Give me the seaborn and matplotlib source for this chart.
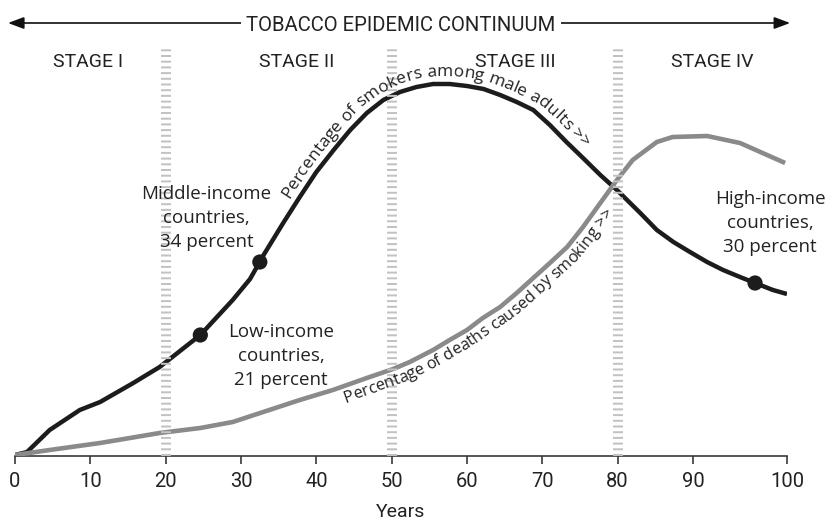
import numpy as np
import pandas as pd
import matplotlib.pyplot as plt
import seaborn as sns
from matplotlib.font_manager import FontProperties

# values (level is unitless, 0 = baseline)
smokers_years = [0, 1.6, 4.6, 8.6, 11.3, 15.7, 19.2, 24.6, 28.9, 31.2,
                 33.0, 35.6, 37.8, 40.0, 42.3, 44.5, 46.7, 48.9, 51.1, 53.3,
                 55.5, 57.7, 60.0, 62.2, 64.4, 66.6, 68.8, 71.0, 73.2, 75.4,
                 77.7, 79.9, 83.0, 85.2, 87.4, 89.6, 91.5, 93.2, 95.0, 96.6,
                 98.5, 100]
smokers_level = [1, 4, 26, 46, 54, 73, 89, 121, 156, 177,
                 201, 233, 259, 284, 306, 326, 343, 356, 364, 369,
                 372, 372, 370, 367, 361, 354, 346, 331, 314, 298,
                 281, 266, 243, 226, 214, 204, 194, 186, 179, 173,
                 166, 162]

deaths_years = [0, 4.6, 11.3, 19.2, 24.6, 28.9, 37.8, 42.2, 46.7, 50.2,
                52.4, 55.5, 57.7, 60.0, 62.1, 64.4, 66.6, 68.8, 71.0, 73.3,
                75.4, 77.7, 79.9, 82.0, 85.2, 87.3, 91.5, 95.0, 99.8]
deaths_level = [1, 6, 13, 23, 28, 34, 56, 66, 78, 87,
                94, 106, 116, 126, 138, 149, 163, 178, 193, 209,
                229, 253, 276, 296, 314, 319, 320, 313, 293]

income_groups = ['Low-income\ncountries,\n21 percent',
                 'Middle-income\ncountries,\n34 percent',
                 'High-income\ncountries,\n30 percent']
income_years = [24.6, 32.5, 96.6]
income_level = [121, 194, 173]

stage_names = ['STAGE I', 'STAGE II', 'STAGE III', 'STAGE IV']
stage_bounds = [20, 50, 80]
year_ticks = list(range(0, 101, 10))

smokers = pd.DataFrame({'year': smokers_years, 'level': smokers_level})
deaths = pd.DataFrame({'year': deaths_years, 'level': deaths_level})
income = pd.DataFrame({'year': income_years, 'level': income_level})

sns.set_theme(style='white')
plt.rcParams['font.family'] = ['Open Sans', 'DejaVu Sans']
cond = 'Roboto'
ink = '#222222'

fig = plt.figure(figsize=(8.32, 5.2), dpi=100)
ax = fig.add_axes([15 / 832, 64 / 520, 772 / 832, 456 / 520])

sns.lineplot(data=deaths, x='year', y='level', color='#8a8a8a', linewidth=3.3,
             solid_capstyle='butt', ax=ax, zorder=3)
sns.lineplot(data=smokers, x='year', y='level', color='#1c1c1c', linewidth=3.2,
             solid_capstyle='butt', ax=ax, zorder=2)
sns.scatterplot(data=income, x='year', y='level', color='#1c1c1c', s=120,
                edgecolor='none', ax=ax, zorder=4)

# the last decade is drawn wider on the original axis
K = 9.4 / 7.533


def fwd(x):
    x = np.asarray(x, dtype=float)
    return np.where(x <= 90, x, 90 + (x - 90) * K)


def inv(u):
    u = np.asarray(u, dtype=float)
    return np.where(u <= 90, u, 90 + (u - 90) / K)


ax.set_xscale('function', functions=(fwd, inv))
ax.set_xlim(0, 100)
ax.set_ylim(0, 456)

ax.vlines(stage_bounds, 0, 409, colors='#c2c2c2', linewidth=7.2,
          linestyles=(0, (0.2, 0.37)), zorder=5)

ax.set_xticks(year_ticks)
ax.set_xticklabels([str(t) for t in year_ticks], fontfamily=cond, fontsize=14.5, color=ink)
ax.tick_params(axis='x', bottom=True, length=5.5, width=1.2, color='#3a3a3a', pad=6)
ax.set_yticks([])
ax.set_xlabel('Years', fontfamily=cond, fontsize=14, color=ink, labelpad=9)
ax.set_ylabel('')
sns.despine(ax=ax, left=True)
ax.spines['bottom'].set_color('#3a3a3a')
ax.spines['bottom'].set_linewidth(1.2)

# top arrow with title
ax.annotate('', xy=(-0.009, 433), xytext=(1.004, 433),
            xycoords=('axes fraction', 'data'), textcoords=('axes fraction', 'data'),
            arrowprops=dict(arrowstyle='<|-|>,head_length=0.8,head_width=0.3',
                            color='#111111', lw=1.2, shrinkA=0, shrinkB=0))
ax.text(0.5, 425, 'TOBACCO EPIDEMIC CONTINUUM', transform=ax.get_yaxis_transform(),
        ha='center', va='baseline', fontfamily=cond, fontsize=14.6, color=ink,
        bbox=dict(facecolor='white', edgecolor='none', pad=4))

for name, sx in zip(stage_names, [9.7, 37.4, 66.4, 92.0]):
    ax.text(sx, 389, name, ha='center', va='baseline', fontfamily=cond,
            fontsize=14, color=ink)

# va='baseline' sits on the last line of a multi-line label
for label, lx, ly in zip(income_groups, [35.3, 25.4, 98.2], [71, 209, 204]):
    ax.text(lx, ly, label, ha='center', va='baseline', fontsize=13.5,
            color=ink, linespacing=1.42, zorder=6)


def curve_label(xs, ys, label, x_start, offset, size):
    fig.canvas.draw()
    rend = fig.canvas.get_renderer()
    fp = FontProperties(family=['Open Sans', 'DejaVu Sans'], size=size)
    pts = ax.transData.transform(np.column_stack([xs, ys]))
    tang = np.gradient(pts, axis=0)
    tang /= np.hypot(tang[:, 0], tang[:, 1])[:, None]
    path = pts + offset * np.column_stack([-tang[:, 1], tang[:, 0]])
    arc = np.concatenate([[0], np.cumsum(np.hypot(*np.diff(path, axis=0).T))])
    at = lambda d: np.array([np.interp(d, arc, path[:, 0]), np.interp(d, arc, path[:, 1])])
    s = np.interp(x_start, xs, arc)
    bar = rend.get_text_width_height_descent('||', fp, ismath=False)[0]
    back = ax.transData.inverted()
    for ch in label:
        w = rend.get_text_width_height_descent('|' + ch + '|', fp, ismath=False)[0] - bar
        if ch != ' ':
            mid = s + w / 2
            half = max(w, 14) / 2
            p0, p1 = at(mid - half), at(mid + half)
            ang = np.degrees(np.arctan2(p1[1] - p0[1], p1[0] - p0[0]))
            px, py = back.transform(at(mid))
            ax.text(px, py, ch, fontproperties=fp, rotation=ang, rotation_mode='anchor',
                    ha='center', va='baseline', color=ink, zorder=6)
        s += w


curve_label(smokers_years, smokers_level, 'Percentage of smokers among male adults >>',
            37.3, 8, 12.5)
curve_label(deaths_years, deaths_level, 'Percentage of deaths caused by smoking >>',
            43.2, -16, 11.8)

fig.savefig('out.png', dpi=100)
